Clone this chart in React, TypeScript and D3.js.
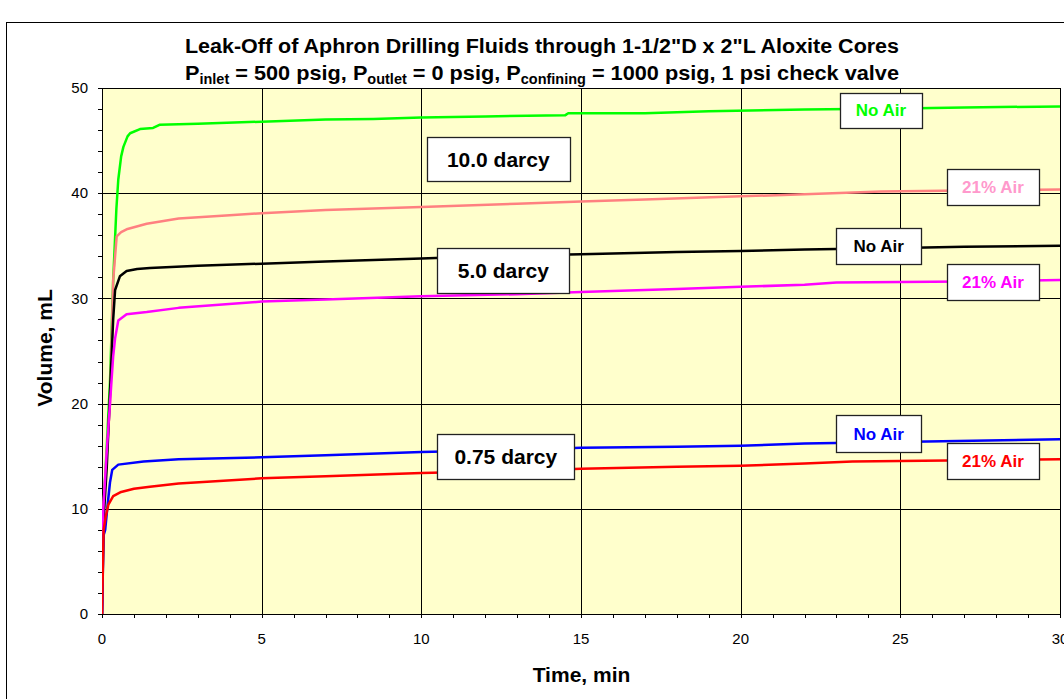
import React from "react";
import * as d3 from "d3";

type Pt = [number, number];

// Time (min), Volume (mL)
const noAir10: Pt[] = [
  [0, 0], [0.04, 9.5], [0.15, 16], [0.25, 22], [0.35, 31.7], [0.45, 38.5], [0.51, 41.3], [0.6, 43.5], [0.67, 44.4],
  [0.8, 45.4], [0.88, 45.7], [1.19, 46.1], [1.6, 46.2], [1.8, 46.5], [3, 46.6], [5, 46.8], [7, 47.0],
  [8.5, 47.05], [10, 47.2], [12, 47.3], [14.5, 47.4], [14.6, 47.6], [17, 47.6], [19, 47.8], [22, 47.95],
  [25, 48.05], [27, 48.15], [30, 48.25],
];
const air21_10: Pt[] = [
  [0, 0], [0.04, 9.9], [0.25, 20], [0.35, 31.7], [0.46, 35.9], [0.6, 36.3], [0.8, 36.6], [1.4, 37.1],
  [2.4, 37.6], [4, 37.9], [5, 38.1], [7, 38.4], [10, 38.7], [13, 39.0], [15, 39.2], [17, 39.4],
  [20, 39.7], [22, 39.9], [24.4, 40.15], [27, 40.25], [30, 40.35],
];
const noAir5: Pt[] = [
  [0, 0], [0.05, 9.0], [0.15, 14], [0.25, 21], [0.35, 28], [0.41, 30.8], [0.56, 32.1], [0.77, 32.6],
  [1.1, 32.8], [1.5, 32.9], [3, 33.1], [5, 33.3], [7, 33.5], [10, 33.8], [12, 34.0], [15, 34.2],
  [18, 34.4], [20, 34.5], [22, 34.65], [25, 34.8], [27, 34.9], [30, 35.0],
];
const air21_5: Pt[] = [
  [0, 0], [0.04, 10], [0.15, 15.5], [0.25, 20], [0.35, 24.5], [0.41, 26.2], [0.51, 27.9], [0.77, 28.5],
  [1.4, 28.7], [2.4, 29.1], [5, 29.7], [7, 29.9], [10, 30.2], [13, 30.4], [15, 30.6], [18, 30.9],
  [20, 31.1], [22, 31.3], [23, 31.5], [27, 31.6], [30, 31.75],
];
const noAir075: Pt[] = [
  [0, 0], [0.05, 7.5], [0.1, 8.0], [0.18, 10.5], [0.25, 12.5], [0.32, 13.7], [0.51, 14.2], [1.3, 14.5],
  [2.4, 14.7], [5, 14.9], [7, 15.1], [10, 15.4], [13, 15.6], [15, 15.8], [18, 15.9], [20, 16.0],
  [22, 16.2], [26.8, 16.45], [30, 16.6],
];
const air21_075: Pt[] = [
  [0, 0], [0.05, 8.0], [0.12, 9.3], [0.2, 10.4], [0.35, 11.2], [0.6, 11.6], [1, 11.9], [1.5, 12.1],
  [2.4, 12.4], [5, 12.9], [7, 13.1], [10, 13.4], [13, 13.6], [15, 13.8], [18, 14.0], [20, 14.1],
  [22, 14.3], [23.5, 14.5], [30, 14.7],
];

const seriesList = [
  { name: "No Air 10.0", data: noAir10, color: "#00FF00" },
  { name: "21% Air 10.0", data: air21_10, color: "#FF8080" },
  { name: "No Air 5.0", data: noAir5, color: "#000000" },
  { name: "21% Air 5.0", data: air21_5, color: "#FF00FF" },
  { name: "No Air 0.75", data: noAir075, color: "#0000FF" },
  { name: "21% Air 0.75", data: air21_075, color: "#FF0000" },
];

const xTicks = [0, 5, 10, 15, 20, 25, 30];
const yTicks = [0, 10, 20, 30, 40, 50];

// annotation boxes: anchor (top-left) in data units
const annotations = [
  { text: "No Air", color: "#00FF00", t: 23.11, v: 49.55, w: 82, h: 35, size: 17 },
  { text: "21% Air", color: "#FF99CC", t: 26.46, v: 42.27, w: 92, h: 36, size: 17 },
  { text: "No Air", color: "#000000", t: 22.99, v: 36.66, w: 85, h: 36, size: 17 },
  { text: "21% Air", color: "#FF00FF", t: 26.46, v: 33.24, w: 92, h: 36, size: 17 },
  { text: "No Air", color: "#0000FF", t: 22.99, v: 18.92, w: 85, h: 37, size: 17 },
  { text: "21% Air", color: "#FF0000", t: 26.46, v: 16.23, w: 92, h: 36, size: 17 },
  { text: "10.0 darcy", color: "#000000", t: 10.17, v: 45.31, w: 143, h: 44, size: 21 },
  { text: "5.0 darcy", color: "#000000", t: 10.5, v: 34.76, w: 132, h: 45, size: 21 },
  { text: "0.75 darcy", color: "#000000", t: 10.5, v: 17.11, w: 137, h: 45, size: 21 },
];

const FONT = "'Liberation Sans', Arial, Helvetica, sans-serif";

export default function App() {
  const W = 1064, H = 699;
  const x = d3.scaleLinear().domain([0, 30]).range([102, 1060]);
  const y = d3.scaleLinear().domain([0, 50]).range([614, 88]);
  const line = d3.line<Pt>().x((d) => x(d[0])).y((d) => y(d[1]));
  const xMinor = d3.range(0, 31, 1);
  const yMinor = d3.range(0, 51, 2);
  const [x0, x1] = x.range();
  const [yb, yt] = y.range();

  return (
    <svg width={W} height={H} style={{ position: "absolute", left: 0, top: 0, background: "#fff" }} fontFamily={FONT}>
      <rect x={0} y={0} width={W} height={H} fill="#fff" />
      <rect x={6.5} y={22.5} width={1200} height={800} fill="#fff" stroke="#000" strokeWidth={1} />
      {/* plot area */}
      <rect x={x0} y={yt} width={x1 - x0} height={yb - yt} fill="#FFFFCC" />
      {/* gridlines */}
      {yTicks.filter((v) => v > 0 && v < 50).map((v) => (
        <line key={"gy" + v} x1={x0} x2={x1} y1={Math.round(y(v)) + 0.5} y2={Math.round(y(v)) + 0.5} stroke="#000" strokeWidth={1} />
      ))}
      {xTicks.filter((t) => t > 0 && t < 30).map((t) => (
        <line key={"gx" + t} x1={Math.round(x(t)) + 0.5} x2={Math.round(x(t)) + 0.5} y1={yt} y2={yb} stroke="#000" strokeWidth={1} />
      ))}
      {/* plot border */}
      <rect x={x0 + 0.5} y={yt + 0.5} width={x1 - x0} height={yb - yt} fill="none" stroke="#000" strokeWidth={1} />
      {/* y ticks */}
      {yMinor.map((v) => (
        <line key={"ym" + v} x1={x0 - 4} x2={x0} y1={Math.round(y(v)) + 0.5} y2={Math.round(y(v)) + 0.5} stroke="#000" />
      ))}
      {yTicks.map((v) => (
        <text key={"yl" + v} x={88} y={y(v)} dy="0.35em" textAnchor="end" fontSize={15}>{v}</text>
      ))}
      {/* x ticks */}
      {xMinor.map((t) => (
        <line key={"xm" + t} x1={Math.round(x(t)) + 0.5} x2={Math.round(x(t)) + 0.5} y1={yb} y2={yb + 4} stroke="#000" />
      ))}
      {xTicks.map((t) => (
        <text key={"xl" + t} x={x(t)} y={644} textAnchor="middle" fontSize={15}>{t}</text>
      ))}
      {/* series */}
      <g clipPath="url(#clip)">
        {seriesList.map((s) => (
          <path key={s.name} d={line(s.data) || ""} fill="none" stroke={s.color} strokeWidth={2.5} strokeLinejoin="round" />
        ))}
      </g>
      <defs>
        <clipPath id="clip">
          <rect x={x0} y={yt - 2} width={x1 - x0 + 2} height={yb - yt + 4} />
        </clipPath>
      </defs>
      {/* annotations */}
      {annotations.map((a, i) => {
        const bx = x(a.t), by = y(a.v);
        return (
          <g key={"a" + i}>
            <rect x={Math.round(bx) + 0.5} y={Math.round(by) + 0.5} width={a.w} height={a.h} fill="#fff" stroke="#222" strokeWidth={1.3} />
            <text x={bx + a.w / 2} y={by + a.h / 2} dy="0.36em" textAnchor="middle" fontWeight="bold" fontSize={a.size} fill={a.color}>{a.text}</text>
          </g>
        );
      })}
      {/* titles */}
      <text x={542} y={53} textAnchor="middle" fontWeight="bold" fontSize={20} textLength={714} lengthAdjust="spacingAndGlyphs">
        Leak-Off of Aphron Drilling Fluids through 1-1/2"D x 2"L Aloxite Cores
      </text>
      <text x={542} y={80} textAnchor="middle" fontWeight="bold" fontSize={21} textLength={714} lengthAdjust="spacingAndGlyphs">
        <tspan>P</tspan><tspan fontSize={14} dy={4}>inlet</tspan>
        <tspan dy={-4}> = 500 psig, P</tspan><tspan fontSize={14} dy={4}>outlet</tspan>
        <tspan dy={-4}> = 0 psig, P</tspan><tspan fontSize={14} dy={4}>confining</tspan>
        <tspan dy={-4}> = 1000 psig, 1 psi check valve</tspan>
      </text>
      <text transform={`translate(52,348) rotate(-90)`} textAnchor="middle" fontWeight="bold" fontSize={21}>Volume, mL</text>
      <text x={581.5} y={682} textAnchor="middle" fontWeight="bold" fontSize={21}>Time, min</text>
    </svg>
  );
}
